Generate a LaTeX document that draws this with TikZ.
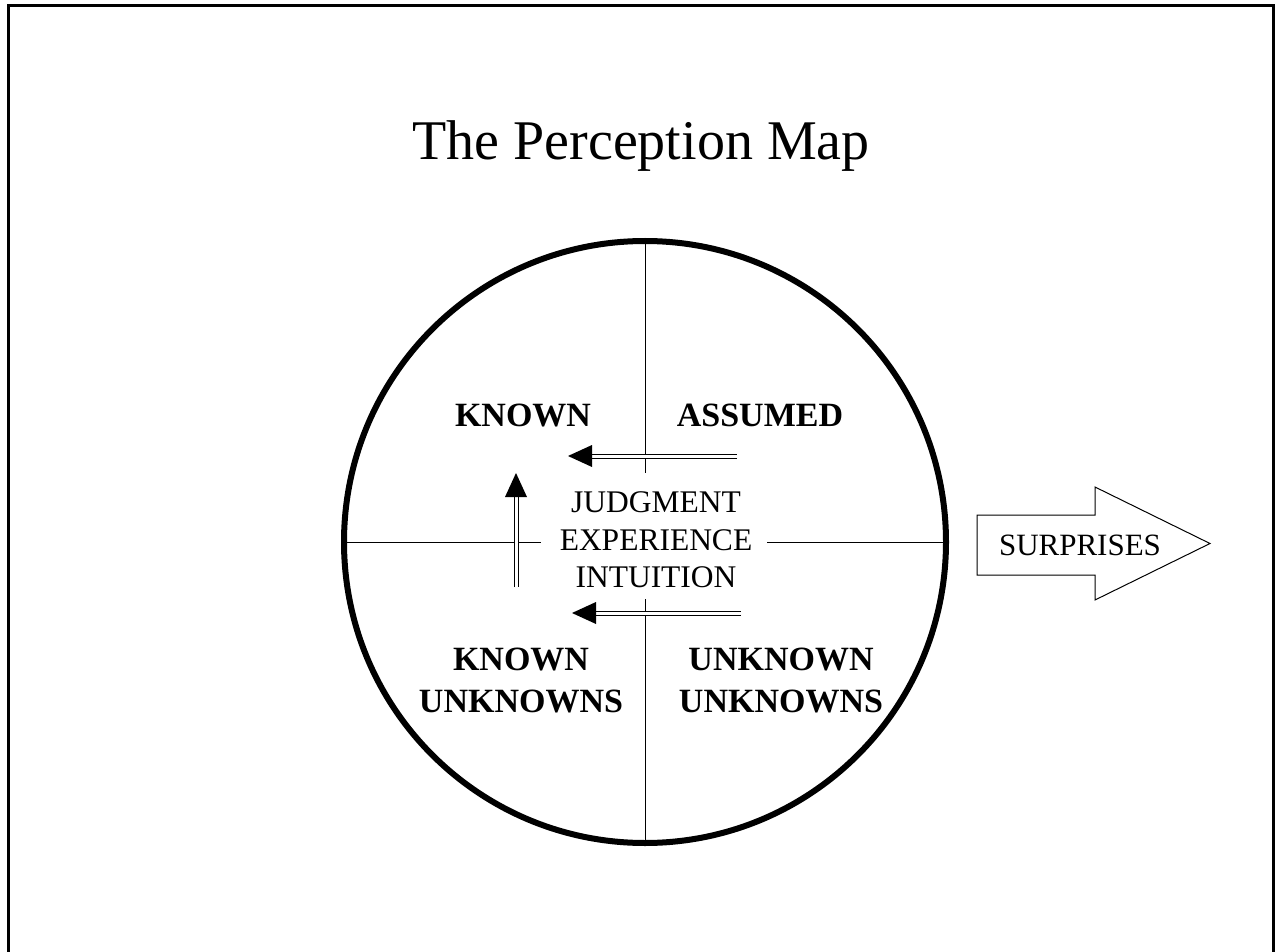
\documentclass[tikz,border=0pt]{standalone}
\usepackage{fontspec}
\setmainfont{Liberation Serif}
\begin{document}
\begin{tikzpicture}[x=1pt,y=-1pt,
  frame/.style={line width=3pt},
  ring/.style={line width=6pt},
  divider/.style={line width=1pt},
  shaft/.style={double, double distance=3pt, line width=1pt},
  headfill/.style={fill=black},
  bigarrow/.style={draw, line width=1pt, fill=white},
  label/.style={inner sep=0pt, anchor=base, font=\fontsize{34}{36}\selectfont\bfseries},
  centertext/.style={inner sep=0pt, anchor=base, font=\fontsize{31.5}{36}\selectfont},
]
\useasboundingbox (0,0) rectangle (1275,952);
\clip (0,0) rectangle (1275,952);
% frame (open at the bottom of the page)
\draw[frame] (8,970) -- (8,6) -- (1273.5,6) -- (1273.5,970);
% title
\node[inner sep=0pt, anchor=base, font=\fontsize{56}{60}\selectfont] (title) at (641,160) {The Perception Map};
% circle
\coordinate (c) at (645,542);
\node[ring, draw, circle, minimum size=602pt, inner sep=0pt] (circ) at (c) {};
% dividers
\coordinate (vtopend) at (645,473);
\coordinate (vbotstart) at (645,599);
\coordinate (hleftend) at (541,542);
\coordinate (hrightstart) at (767,542);
\draw[divider] (circ.north) -- (vtopend);
\draw[divider] (vbotstart) -- (circ.south);
\draw[divider] (circ.west) -- (hleftend);
\draw[divider] (hrightstart) -- (circ.east);
% centre text
\node[centertext] (t1) at (656,512) {JUDGMENT};
\node[centertext] (t2) at (656,550) {EXPERIENCE};
\node[centertext] (t3) at (656,587) {INTUITION};
% quadrant labels
\node[label] (known) at (523,426) {KNOWN};
\node[label] (assumed) at (760,426) {ASSUMED};
\node[label] (ku1) at (521,670) {KNOWN};
\node[label] (ku2) at (521,712) {UNKNOWNS};
\node[label] (uu1) at (781,670) {UNKNOWN};
\node[label] (uu2) at (781,712) {UNKNOWNS};
% double arrows
\coordinate (a1s) at (737,456); \coordinate (a1b) at (590,456); \coordinate (a1t) at (568,456);
\draw[shaft] (a1s) -- (a1b);
\fill[headfill] (a1t) -- (592,445) -- (592,467) -- cycle;
\coordinate (a2s) at (741,613); \coordinate (a2b) at (594,613); \coordinate (a2t) at (572,613);
\draw[shaft] (a2s) -- (a2b);
\fill[headfill] (a2t) -- (596,602) -- (596,624) -- cycle;
\coordinate (a3s) at (516,587); \coordinate (a3b) at (516,495); \coordinate (a3t) at (516,473);
\draw[shaft] (a3s) -- (a3b);
\fill[headfill] (a3t) -- (505,497) -- (527,497) -- cycle;
% surprises arrow
\draw[bigarrow] (977,515) -- (1095,515) -- (1095,487) -- (1210,543.5) -- (1095,600) -- (1095,575) -- (977,575) -- cycle;
\node[inner sep=0pt, anchor=base, font=\fontsize{31}{36}\selectfont] (surprises) at (1080,555) {SURPRISES};
\end{tikzpicture}
\end{document}
